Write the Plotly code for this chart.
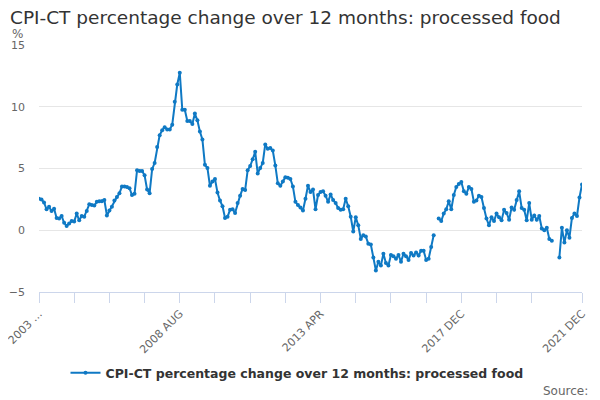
import pandas as pd
import plotly.graph_objects as go

# Monthly categories, 2003 DEC .. 2021 DEC
months = [p.strftime("%Y %b").upper() for p in pd.period_range("2003-12", "2021-12", freq="M")]

# % change over 12 months (None = no value published)
values = [
    2.55, 2.5, 2.25, 1.7, 1.9, 1.55, 1.75, 1.0, 0.95, 1.15, 0.6, 0.35,
    0.55, 0.75, 0.7, 1.35, 0.8, 1.15, 1.1, 1.55, 2.1, 2.05, 2.0, 2.3,
    2.35, 2.35, 2.45, 1.2, 1.6, 1.9, 2.4, 2.7, 3.0, 3.55, 3.55, 3.5,
    3.4, 2.85, 2.95, 4.85, 4.8, 4.8, 4.45, 3.3, 3.0, 4.95, 5.45, 6.75,
    7.7, 8.1, 8.35, 8.15, 8.15, 8.55, 10.4, 11.8, 12.75, 9.75, 9.75, 8.85,
    8.85, 8.6, 9.45, 8.9, 8.0, 7.35, 5.3, 5.05, 3.6, 3.95, 4.15, 3.05,
    2.4, 1.95, 1.0, 1.1, 1.65, 1.7, 1.4, 2.2, 2.8, 3.35, 3.25, 4.85,
    5.2, 5.75, 6.35, 4.6, 5.05, 5.45, 6.95, 6.6, 6.65, 6.45, 5.25, 3.8,
    3.6, 3.95, 4.3, 4.25, 4.15, 3.55, 2.3, 2.05, 1.85, 1.6, 2.55, 3.6,
    3.1, 3.3, 1.7, 2.85, 3.1, 3.15, 2.8, 2.3, 2.9, 2.45, 2.2, 1.8,
    1.65, 1.7, 2.55, 1.95, 1.1, -0.1, 1.05, 0.4, -0.7, -0.4, -0.5, -1.1,
    -1.15, -2.2, -3.25, -2.55, -2.85, -1.9, -2.65, -2.85, -2.0, -2.1, -2.3, -2.0,
    -2.55, -1.9, -2.1, -2.4, -1.85, -2.05, -1.8, -2.05, -1.65, -1.65, -2.4, -2.3,
    -1.35, -0.4, None, 0.95, 0.75, 1.35, 1.7, 2.35, 1.7, 2.85, 3.5, 3.75,
    3.9, 3.15, 2.95, 3.5, 3.35, 2.3, 2.4, 2.8, 2.7, 1.8, 0.95, 0.4,
    1.05, 0.75, 1.35, 1.05, 0.8, 1.65, 1.4, 0.85, 1.85, 1.65, 2.45, 3.15,
    1.8, 1.65, 0.8, 2.2, 0.85, 1.2, 0.85, 1.15, 0.15, 0.0, 0.2, -0.7,
    -0.85, None, None, -2.2, 0.2, -1.0, 0.0, -0.6, 1.0, 1.35, 1.15, 2.65,
    3.7,
]

# x axis: tick marks every 14 months plus the last month, labels on a few
tick_idx = [0, 14, 28, 42, 56, 70, 84, 98, 112, 126, 140, 154, 168, 182, 196, 216]
tick_labels = ["2003 …", "", "", "", "2008 AUG", "", "", "", "2013 APR",
               "", "", "", "2017 DEC", "", "", "2021 DEC"]

series_name = "CPI-CT percentage change over 12 months: processed food"
blue = "#0f79c4"
font = "DejaVu Sans"

fig = go.Figure()
fig.add_trace(go.Scatter(
    x=months, y=values, name=series_name,
    mode="lines+markers",
    line=dict(color=blue, width=2),
    marker=dict(color=blue, size=4),
    connectgaps=False,
))

# page body has an 8px margin, so the figure is 8px smaller than the window
fig.update_layout(
    width=592, height=392,
    margin=dict(l=31, r=18, t=37, b=108, autoexpand=False),
    paper_bgcolor="white", plot_bgcolor="white",
    font=dict(family=font, color="#666666", size=11),
    title=dict(text=series_name, x=2 / 592, xanchor="left", y=1 - 10 / 392,
               yanchor="middle", font=dict(size=18.5, color="#333333", family=font)),
    showlegend=True,
    legend=dict(orientation="h", xref="container", yref="container",
                x=289 / 592, xanchor="center", y=1 - 365 / 392, yanchor="middle",
                font=dict(size=12.5, color="#333333", family=font, weight="bold")),
    hovermode=False,
)

fig.update_xaxes(
    type="category", range=[0, len(months) - 1], automargin=False,
    tickmode="array", tickvals=[months[i] for i in tick_idx], ticktext=tick_labels,
    tickangle=-45, ticks="outside", ticklen=10, tickcolor="#ccd6eb",
    showline=True, linecolor="#ccd6eb", linewidth=1,
    showgrid=False, zeroline=False,
    tickfont=dict(size=11, color="#666666"),
)
fig.update_yaxes(
    range=[-5, 15], dtick=5, tick0=0, automargin=False,
    showgrid=True, gridcolor="#e6e6e6", gridwidth=1, zeroline=False,
    ticklabelstandoff=13, tickfont=dict(size=11, color="#666666"),
)

fig.add_annotation(text="%", xref="paper", yref="paper", x=-0.0534, y=1.046,
                   xanchor="left", yanchor="middle", showarrow=False,
                   font=dict(size=12, color="#666666"))
fig.add_annotation(text="Source:", xref="paper", yref="paper", x=1.0147, y=-0.40,
                   xanchor="right", yanchor="middle", showarrow=False,
                   font=dict(size=12, color="#666666"))

fig.write_html("out.html")
